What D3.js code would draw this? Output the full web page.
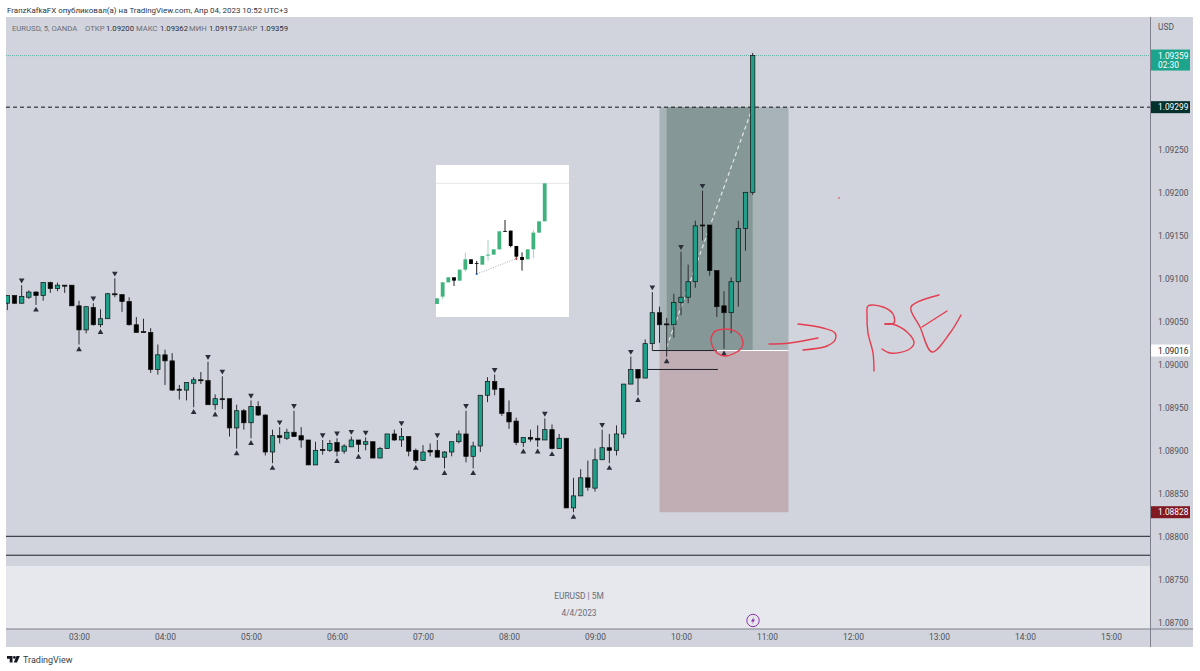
<!DOCTYPE html>
<html>
<head>
<meta charset="utf-8">
<script src="https://cdn.jsdelivr.net/npm/d3@7"></script>
<style>
  html, body { margin: 0; padding: 0; background: #fff; }
  text { font-family: Roboto, sans-serif; }
</style>
</head>
<body>
<div id="plot"></div>
<script>
// OHLC for each 5 minute bar, first bar is 02:10
const opens = [
  1.09071,1.09080,1.09071,1.09078,1.09084,1.09080,1.09095,1.09088,1.09092,1.09092,
  1.09068,1.09040,1.09066,1.09046,1.09053,1.09082,1.09081,1.09073,1.09046,1.09038,
  1.09037,1.08994,1.09011,1.09004,1.08971,1.08970,1.08978,1.08982,1.08981,1.08953,
  1.08960,1.08960,1.08926,1.08946,1.08932,1.08951,1.08941,1.08898,1.08917,1.08914,
  1.08921,1.08917,1.08912,1.08883,1.08901,1.08900,1.08909,1.08899,1.08904,1.08912,
  1.08907,1.08910,1.08891,1.08902,1.08919,1.08912,1.08916,1.08900,1.08888,1.08900,
  1.08900,1.08892,1.08898,1.08910,1.08919,1.08893,1.08905,1.08964,1.08980,1.08972,
  1.08944,1.08934,1.08909,1.08915,1.08914,1.08912,1.08924,1.08902,1.08914,1.08833,
  1.08847,1.08868,1.08856,1.08889,1.08903,1.08900,1.08919,1.08977,1.08994,1.08984,
  1.09024,1.09060,1.09047,1.09046,1.09072,1.09078,1.09096,1.09162,1.09162,1.09109,
  1.09068,1.09060,1.09096,1.09158,1.09200];
const highs = [
  1.09080,1.09080,1.09092,1.09086,1.09085,1.09095,1.09096,1.09095,1.09092,1.09092,
  1.09074,1.09067,1.09071,1.09064,1.09083,1.09100,1.09081,1.09078,1.09055,1.09053,
  1.09042,1.09023,1.09017,1.09013,1.08976,1.08979,1.08985,1.08991,1.09003,1.08965,
  1.08986,1.08960,1.08953,1.08948,1.08958,1.08957,1.08942,1.08924,1.08927,1.08925,
  1.08946,1.08927,1.08912,1.08910,1.08912,1.08912,1.08914,1.08907,1.08916,1.08912,
  1.08915,1.08910,1.08904,1.08919,1.08924,1.08926,1.08916,1.08902,1.08906,1.08908,
  1.08912,1.08899,1.08910,1.08923,1.08946,1.08910,1.08964,1.08985,1.08988,1.08972,
  1.08958,1.08938,1.08915,1.08924,1.08929,1.08937,1.08930,1.08919,1.08914,1.08868,
  1.08878,1.08888,1.08902,1.08924,1.08919,1.08929,1.08977,1.09009,1.08994,1.09029,
  1.09084,1.09067,1.09054,1.09082,1.09131,1.09116,1.09167,1.09202,1.09162,1.09109,
  1.09085,1.09101,1.09167,1.09200,1.09362];
const lows = [
  1.09063,1.09070,1.09071,1.09076,1.09069,1.09074,1.09083,1.09085,1.09083,1.09068,
  1.09023,1.09036,1.09045,1.09043,1.09053,1.09078,1.09061,1.09045,1.09037,1.09037,
  1.08990,1.08988,1.08976,1.08969,1.08959,1.08958,1.08950,1.08977,1.08953,1.08947,
  1.08948,1.08916,1.08902,1.08924,1.08914,1.08940,1.08894,1.08885,1.08908,1.08912,
  1.08916,1.08903,1.08883,1.08883,1.08895,1.08898,1.08893,1.08896,1.08904,1.08898,
  1.08900,1.08891,1.08891,1.08902,1.08911,1.08904,1.08893,1.08885,1.08888,1.08893,
  1.08892,1.08879,1.08893,1.08908,1.08886,1.08879,1.08898,1.08956,1.08964,1.08940,
  1.08925,1.08906,1.08904,1.08910,1.08904,1.08912,1.08901,1.08902,1.08833,1.08828,
  1.08847,1.08853,1.08852,1.08889,1.08885,1.08894,1.08914,1.08977,1.08964,1.08984,
  1.09016,1.09025,1.09009,1.09031,1.09057,1.09071,1.09089,1.09144,1.09103,1.09055,
  1.09018,1.09036,1.09067,1.09132,1.09197];
const closes = [
  1.09080,1.09071,1.09079,1.09084,1.09080,1.09095,1.09088,1.09092,1.09091,1.09068,
  1.09040,1.09067,1.09046,1.09053,1.09082,1.09081,1.09073,1.09046,1.09037,1.09037,
  1.08994,1.09011,1.09004,1.08970,1.08970,1.08979,1.08982,1.08981,1.08953,1.08960,
  1.08959,1.08926,1.08946,1.08932,1.08951,1.08941,1.08898,1.08917,1.08915,1.08921,
  1.08916,1.08912,1.08883,1.08900,1.08900,1.08908,1.08899,1.08905,1.08912,1.08907,
  1.08910,1.08891,1.08902,1.08919,1.08912,1.08916,1.08899,1.08888,1.08898,1.08898,
  1.08892,1.08898,1.08910,1.08919,1.08893,1.08905,1.08964,1.08980,1.08971,1.08943,
  1.08933,1.08909,1.08915,1.08913,1.08912,1.08924,1.08902,1.08914,1.08833,1.08847,
  1.08868,1.08857,1.08889,1.08903,1.08900,1.08919,1.08977,1.08994,1.08984,1.09024,
  1.09060,1.09046,1.09046,1.09072,1.09078,1.09096,1.09161,1.09161,1.09109,1.09067,
  1.09060,1.09096,1.09158,1.09200,1.09359];

// bar numbers (1 = first bar) that carry a fractal marker
const upFractals = [3,13,16,29,31,35,39,41,45,47,49,51,56,61,65,69,76,84,88,91,95,98];
const downFractals = [5,11,14,27,30,33,35,38,47,50,58,62,66,73,75,77,80,85,89,93,101];

const priceTicks = [1.0925,1.092,1.0915,1.091,1.0905,1.09,1.0895,1.089,1.0885,1.088,1.0875,1.087];
const timeTicks = ["03:00","04:00","05:00","06:00","07:00","08:00","09:00","10:00","11:00","12:00","13:00","14:00","15:00"];

// levels and the long position tool
const levelLines = [1.08800, 1.08778];
const dashedLevel = 1.09299;
const lastPrice = 1.09359;
const entryPrice = 1.09016;
const targetPrice = 1.09299;
const stopPrice = 1.08828;
const secondLevel = 1.08994;

// the pasted picture: unitless heights
const insetOpens = [40,62,105,120,110,143,174,163,158,185,188,204,259,260,214,181,174,204,254,288];
const insetCloses = [57,105,120,110,143,174,160,161,184,188,204,258,257,214,182,172,204,254,288,402];
const insetHighs = [57,105,120,120,143,194,174,169,184,232,204,258,292,260,214,195,204,262,288,402];
const insetLows = [40,54,105,94,110,137,160,130,158,170,188,204,257,210,172,140,174,177,254,288];

const parseTime = d3.utcParse("%Y-%m-%d %H:%M");
const firstBar = parseTime("2023-04-04 02:10");
const barTime = i => new Date(firstBar.getTime() + i * 300000);
const at = s => parseTime("2023-04-04 " + s);

const W = 1200, H = 671;
const paneLeft = 6, paneRight = 1150, axisRight = 1193, paneTop = 17, paneBottom = 566, timeTop = 629, timeBottom = 647;
const bg = "#d1d4dc", up = "#1f9e89", down = "#000000", ink = "#2a2e39", axisText = "#50535e";
const axisFont = 8.4;

const svg = d3.select("#plot").append("svg")
  .attr("width", W).attr("height", H)
  .style("display", "block");

svg.append("defs").append("clipPath").attr("id", "pane")
  .append("rect").attr("x", paneLeft).attr("y", paneTop).attr("width", paneRight - paneLeft).attr("height", paneBottom - paneTop);

const x = d3.scaleUtc().domain([at("03:00"), at("11:00")]).range([79, 767]);
const y = d3.scaleLinear().domain([1.093, 1.087]).range([106.3, 622.3]);

// backgrounds
svg.append("rect").attr("x", paneLeft).attr("y", paneTop).attr("width", axisRight - paneLeft).attr("height", timeBottom - paneTop).attr("fill", bg);
svg.append("rect").attr("x", paneLeft).attr("y", paneBottom).attr("width", paneRight - paneLeft).attr("height", timeTop - paneBottom).attr("fill", "#e7e8ed");
svg.append("line").attr("x1", paneLeft).attr("x2", axisRight).attr("y1", timeTop).attr("y2", timeTop).attr("stroke", "#7d808a");
svg.append("line").attr("x1", paneRight + 0.5).attr("x2", paneRight + 0.5).attr("y1", paneTop).attr("y2", timeBottom).attr("stroke", "#7d808a");

const pane = svg.append("g").attr("clip-path", "url(#pane)");

// position tool
const boxL = x(at("09:45")), boxR = x(at("11:15")), barL = x(at("09:50")), barR = x(at("10:50"));
pane.append("rect").attr("x", boxL).attr("width", boxR - boxL).attr("y", y(targetPrice)).attr("height", y(entryPrice) - y(targetPrice)).attr("fill", "#a7b3b6");
pane.append("rect").attr("x", barL).attr("width", barR - barL).attr("y", y(targetPrice)).attr("height", y(entryPrice) - y(targetPrice)).attr("fill", "#859897");
pane.append("rect").attr("x", boxL).attr("width", boxR - boxL).attr("y", y(entryPrice)).attr("height", y(stopPrice) - y(entryPrice)).attr("fill", "#c1aeb4");
pane.append("line").attr("x1", boxL).attr("x2", boxR).attr("y1", y(entryPrice)).attr("y2", y(entryPrice)).attr("stroke", "#fff");
pane.append("line").attr("x1", barL).attr("x2", barR)
  .attr("y1", y(1.0902)).attr("y2", y(targetPrice))
  .attr("stroke", "#fff").attr("stroke-opacity", 0.75).attr("stroke-width", 1.2).attr("stroke-dasharray", "4 3");

// level lines
pane.selectAll(".level").data(levelLines).enter().append("line")
  .attr("x1", paneLeft).attr("x2", paneRight)
  .attr("y1", d => y(d)).attr("y2", d => y(d))
  .attr("stroke", "#1c1f27");
pane.append("line").attr("x1", paneLeft).attr("x2", paneRight)
  .attr("y1", y(dashedLevel)).attr("y2", y(dashedLevel))
  .attr("stroke", "#111").attr("stroke-dasharray", "4 3");
pane.append("line").attr("x1", paneLeft).attr("x2", paneRight)
  .attr("y1", y(lastPrice)).attr("y2", y(lastPrice))
  .attr("stroke", "#4aa89a").attr("stroke-opacity", 0.8).attr("stroke-dasharray", "1 1");
pane.append("line").attr("x1", x(at("09:40"))).attr("x2", x(at("10:25")))
  .attr("y1", y(entryPrice)).attr("y2", y(entryPrice)).attr("stroke", "#1c1f27");
pane.append("line").attr("x1", x(at("09:35"))).attr("x2", x(at("10:25")) + 1)
  .attr("y1", y(secondLevel)).attr("y2", y(secondLevel)).attr("stroke", "#1c1f27");

// candles
const bars = opens.map((o, i) => ({ t: barTime(i), o, h: highs[i], l: lows[i], c: closes[i] }));
const candles = pane.selectAll(".bar").data(bars).enter().append("g").attr("class", "bar");
candles.append("line")
  .attr("x1", d => x(d.t)).attr("x2", d => x(d.t))
  .attr("y1", d => y(d.h)).attr("y2", d => y(d.l))
  .attr("stroke", "#2b2d33");
candles.append("rect")
  .attr("x", d => x(d.t) - 2.2).attr("width", 4.4)
  .attr("y", d => y(Math.max(d.o, d.c)))
  .attr("height", d => Math.max(1, Math.abs(y(d.o) - y(d.c))))
  .attr("fill", d => d.c > d.o ? up : down)
  .attr("stroke", "#111").attr("stroke-width", 0.7);

// fractal markers
const tri = d3.symbol().type(d3.symbolTriangle).size(14);
pane.selectAll(".frUp").data(upFractals).enter().append("path")
  .attr("d", tri)
  .attr("fill", ink)
  .attr("transform", d => `translate(${x(barTime(d - 1))},${y(highs[d - 1]) - 5}) rotate(180)`);
pane.selectAll(".frDown").data(downFractals).enter().append("path")
  .attr("d", tri)
  .attr("fill", ink)
  .attr("transform", d => `translate(${x(barTime(d - 1))},${y(lows[d - 1]) + 5})`);

// pasted picture
const inset = svg.append("g");
inset.append("rect").attr("x", 436).attr("y", 165).attr("width", 133).attr("height", 152).attr("fill", "#fff");
const ix = d3.scaleLinear().domain([0, 19]).range([437, 544.7]);
const iy = d3.scaleLinear().domain([0, 457]).range([317.3, 165]);
inset.append("line").attr("x1", 436).attr("x2", 569).attr("y1", iy(402)).attr("y2", iy(402)).attr("stroke", "#e4e6ea");
insetOpens.forEach((o, i) => {
  const c = insetCloses[i];
  inset.append("line").attr("x1", ix(i)).attr("x2", ix(i))
    .attr("y1", iy(insetHighs[i])).attr("y2", iy(insetLows[i]))
    .attr("stroke", c > o ? "#9fd4b9" : "#222");
  inset.append("rect").attr("x", ix(i) - 1.9).attr("width", 3.8)
    .attr("y", iy(Math.max(o, c))).attr("height", Math.max(0.8, Math.abs(iy(o) - iy(c))))
    .attr("fill", c > o ? "#3fb37d" : "#000");
});
inset.append("line").attr("x1", ix(7)).attr("x2", ix(14))
  .attr("y1", iy(130)).attr("y2", iy(176))
  .attr("stroke", "#8d96a8").attr("stroke-width", 0.8).attr("stroke-dasharray", "1 1.5");
inset.append("circle").attr("cx", ix(7)).attr("cy", iy(130)).attr("r", 1.1).attr("fill", "#2f5fb0");
inset.append("circle").attr("cx", ix(14)).attr("cy", iy(176)).attr("r", 1.1).attr("fill", "#d8433a");

// hand drawn ink
const ink2 = d3.line().curve(d3.curveCatmullRom);
const strokes = [
  [[715,331],[725,329],[735,331],[742,338],[742,347],[735,353],[725,356],[717,353],[712,345],[711,338],[715,331]],
  [[769,344],[790,343],[818,338]],
  [[798,324],[823,328],[835,333],[835,340],[827,346],[803,350]],
  [[874,371],[873,353],[868,333],[867,315],[868,306],[883,307],[893,314],[894,323],[885,324]],
  [[885,324],[892,324],[907,332],[914,343],[908,350],[890,353],[882,349]],
  [[939,295],[911,307],[920,327],[932,352],[950,333],[961,315]],
  [[947,311],[922,327]]
];
svg.selectAll(".ink").data(strokes).enter().append("path")
  .attr("d", ink2).attr("fill", "none")
  .attr("stroke", "#e43d50").attr("stroke-width", 1.4).attr("stroke-linecap", "round");
svg.append("circle").attr("cx", 839).attr("cy", 198).attr("r", 0.8).attr("fill", "#e0404f");

// axes
const yAxis = svg.append("g").attr("transform", `translate(${paneRight + 1},0)`)
  .call(d3.axisRight(y).tickValues(priceTicks).tickSize(0).tickPadding(7).tickFormat(d3.format(".5f")));
yAxis.select(".domain").remove();
yAxis.selectAll("text").attr("fill", axisText).style("font-size", axisFont + "px").style("font-family", "Roboto, sans-serif");

const xAxis = svg.append("g").attr("transform", `translate(0,${timeTop})`)
  .call(d3.axisBottom(x).tickValues(timeTicks.map(at)).tickSize(0).tickPadding(5).tickFormat(d3.utcFormat("%H:%M")));
xAxis.select(".domain").remove();
xAxis.selectAll("text").attr("fill", axisText).style("font-size", axisFont + "px").style("font-family", "Roboto, sans-serif");

// price tags
const tag = (price, fill, color, h) => {
  const yy = y(price);
  svg.append("rect").attr("x", paneRight + 1).attr("y", yy - 6).attr("width", 39).attr("height", h).attr("fill", fill);
  svg.append("text").attr("x", paneRight + 8).attr("y", yy + 3).attr("fill", color)
    .attr("font-size", axisFont).text(price.toFixed(5));
};
tag(lastPrice, "#1ca58c", "#fff", 21);
svg.append("text").attr("x", paneRight + 8).attr("y", y(lastPrice) + 12).attr("fill", "#fff").attr("font-size", axisFont).text("02:30");
tag(dashedLevel, "#06302b", "#fff", 12);
tag(entryPrice, "#fff", "#1c1f27", 12);
tag(stopPrice, "#801922", "#fff", 12);

// captions
const label = (tx, ty, s, size, color, anchor) => svg.append("text")
  .attr("x", tx).attr("y", ty).attr("font-size", size).attr("fill", color)
  .attr("text-anchor", anchor || "start").text(s);
label(7, 13, "FranzKafkaFX опубликовал(а) на TradingView.com, Апр 04, 2023 10:52 UTC+3", 7.95, "#30333b");
label(1158, 30, "USD", axisFont, axisText);
label(579, 599, "EURUSD | 5M", axisFont, "#6a6d78", "middle");
label(579, 616, "4/4/2023", axisFont, "#6a6d78", "middle");

// legend pieces sit where the reference puts them
const legendNames = ["EURUSD, 5, OANDA", "ОТКР", "МАКС", "МИН", "ЗАКР"];
const legendNameX = [12, 85, 136, 189, 238];
const legendValues = ["1.09200", "1.09362", "1.09197", "1.09359"];
const legendValueX = [106, 160, 209, 260];
legendNames.forEach((s, i) => label(legendNameX[i], 31, s, 7.7, "#6a6d78"));
legendValues.forEach((s, i) => label(legendValueX[i], 31, s, 7.7, "#2a2e39"));

// lightning badge
const badge = svg.append("g").attr("transform", "translate(753,620.5)");
badge.append("circle").attr("r", 6.2).attr("fill", "none").attr("stroke", "#8b2fa8");
badge.append("path").attr("d", "M1,-4 L-2,1 L0,1 L-1,4 L2,-1 L0,-1 Z").attr("fill", "#8b2fa8");

// TradingView logo
const logo = svg.append("g").attr("fill", "#131722").attr("transform", "translate(7,656)");
logo.append("path").attr("d", "M0,0 H5.5 V6.5 H2.7 V2.7 H0 Z");
logo.append("circle").attr("cx", 7.4).attr("cy", 1.4).attr("r", 1.4);
logo.append("path").attr("d", "M9.5,0 H12.8 L10,6.5 H6.8 Z");
label(23, 663, "TradingView", 9, "#3a3d46");
</script>
</body>
</html>
